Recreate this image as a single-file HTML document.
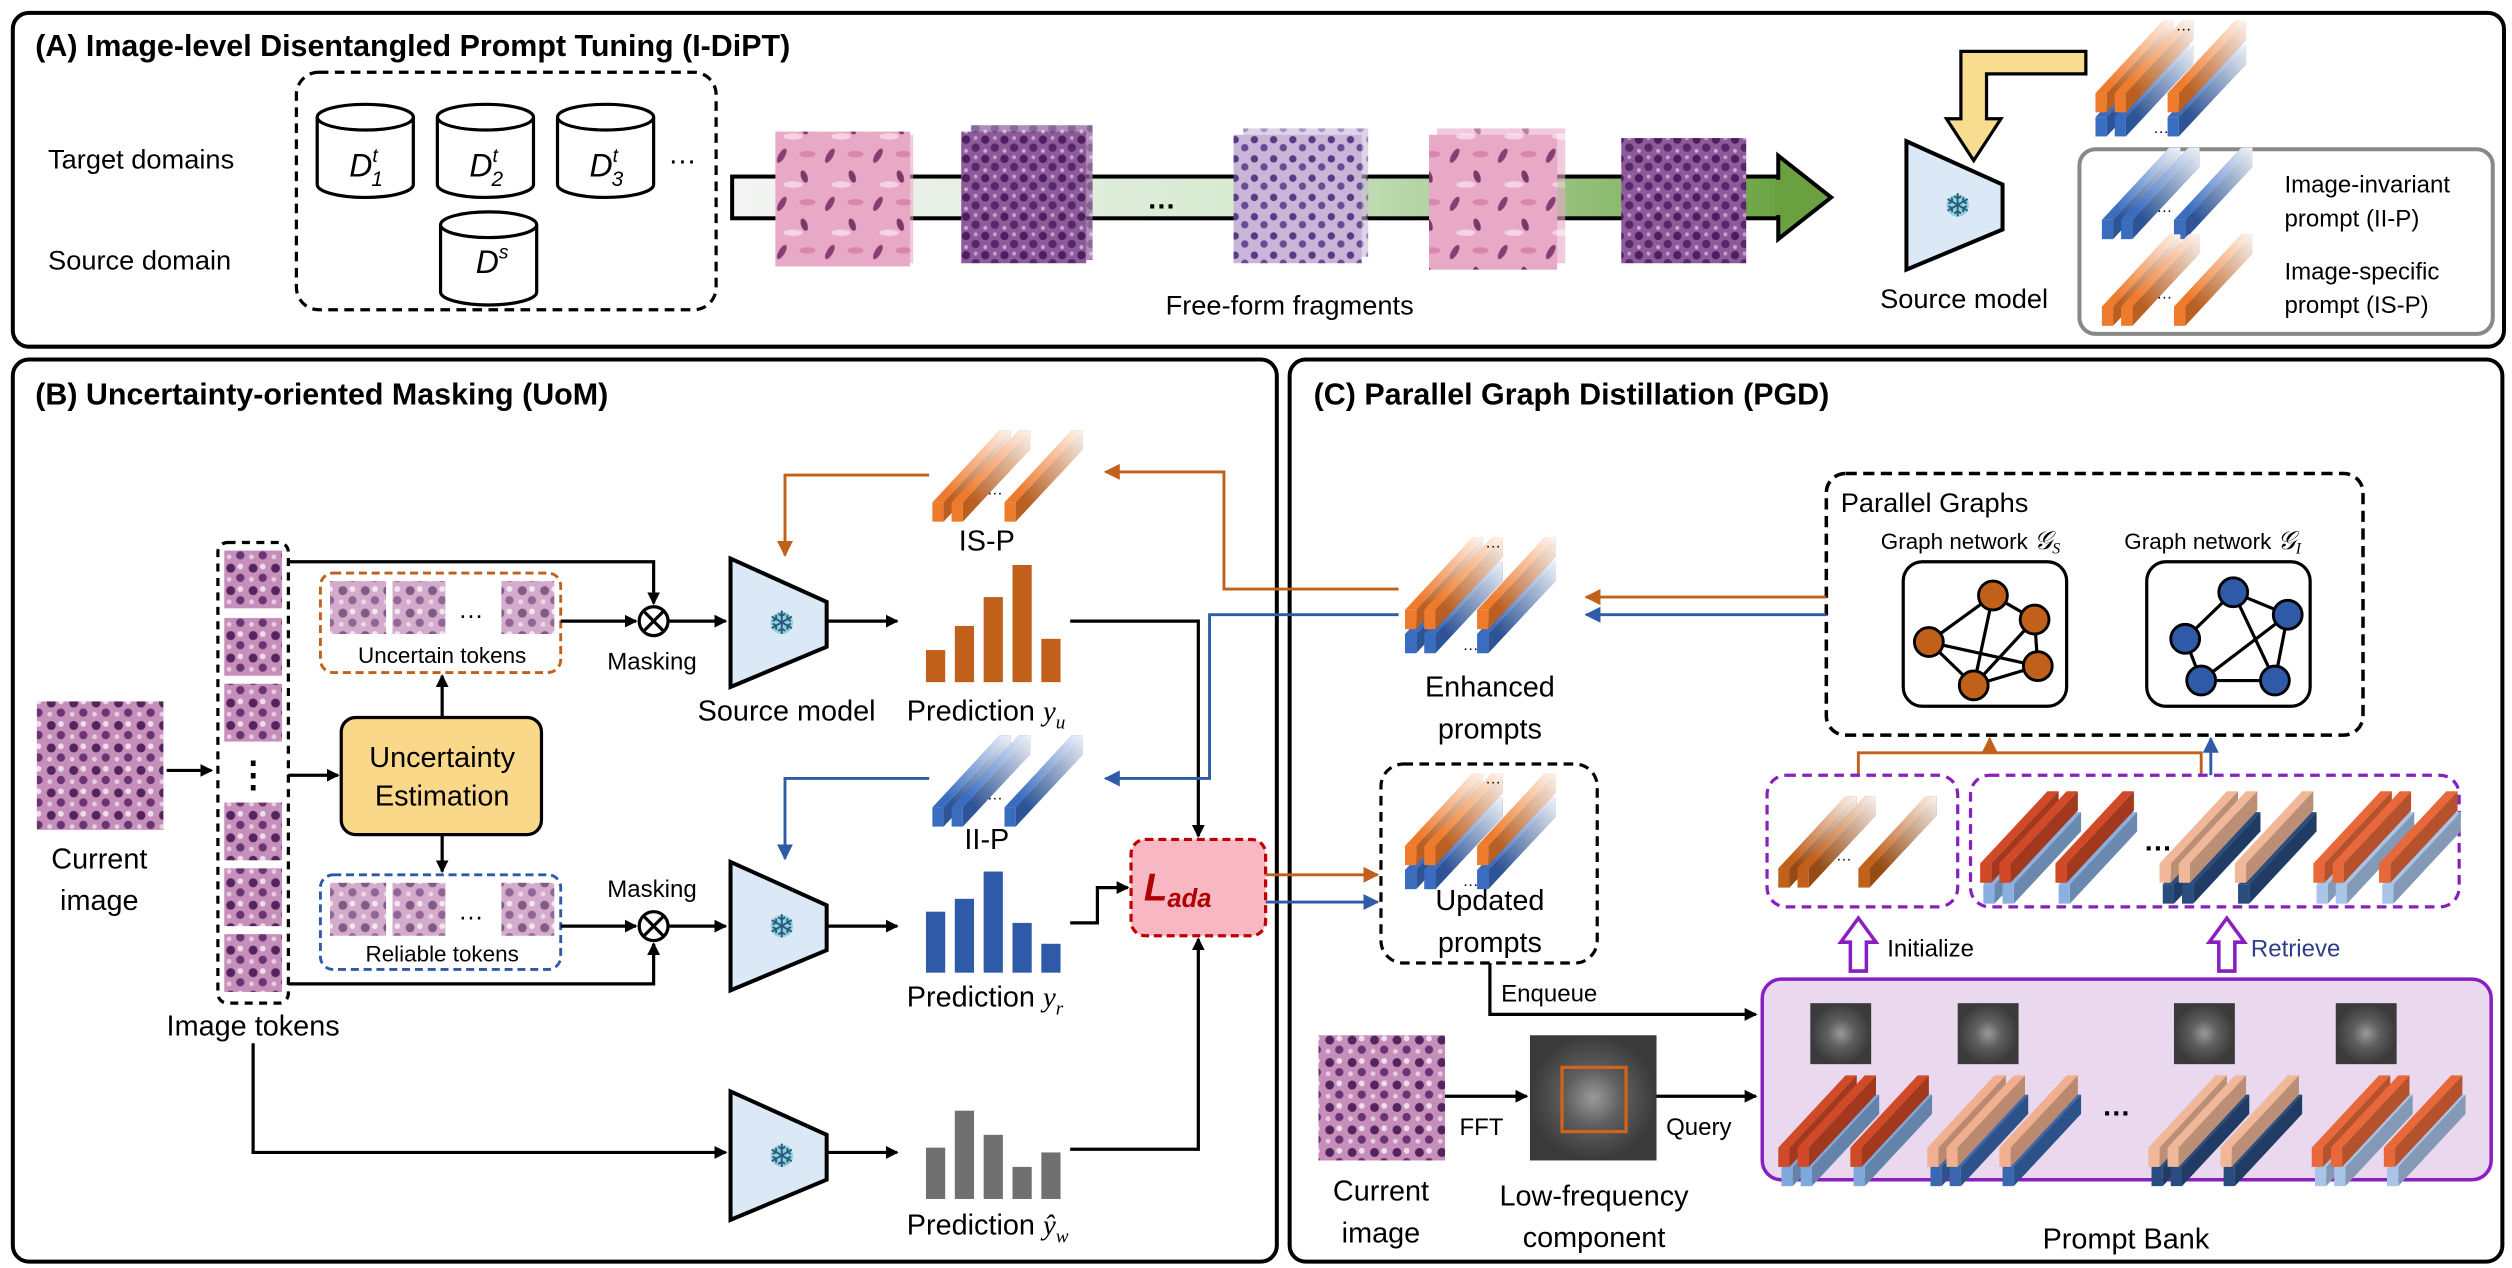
<!DOCTYPE html>
<html><head><meta charset="utf-8"><style>
html,body{margin:0;padding:0;background:#fff;}
svg{display:block;}
text{font-family:"Liberation Sans",sans-serif;}
</style></head><body>
<svg width="2512" height="1268" viewBox="0 0 1568 790" preserveAspectRatio="none" xmlns="http://www.w3.org/2000/svg">
<defs>
<linearGradient id="fade" x1="0" y1="1" x2="1" y2="0"><stop offset="0.25" stop-color="#fff" stop-opacity="0"/><stop offset="1" stop-color="#fff" stop-opacity="0.92"/></linearGradient>
<linearGradient id="barg" x1="0" y1="0" x2="1" y2="0"><stop offset="0" stop-color="#f4f4f4"/><stop offset="0.5" stop-color="#d6ead0"/><stop offset="1" stop-color="#6aa444"/></linearGradient>
<symbol id="bar" overflow="visible">
<polygon points="0,45 7,45 49,0 42,0" fill="currentColor"/>
<polygon points="7,45 7,57 49,12 49,0" fill="currentColor"/>
<polygon points="7,45 7,57 49,12 49,0" fill="#000" opacity="0.22"/>
<polygon points="0,45 7,45 7,57 49,12 49,0 42,0" fill="url(#fade)"/>
<rect x="0" y="45" width="7" height="12" fill="currentColor"/>
</symbol>
<symbol id="solid" overflow="visible">
<polygon points="0,45 7,45 49,0 42,0" fill="currentColor"/>
<polygon points="7,45 7,57 49,12 49,0" fill="currentColor"/>
<polygon points="7,45 7,57 49,12 49,0" fill="#000" opacity="0.22"/>
<rect x="0" y="45" width="7" height="12" fill="currentColor"/>
</symbol>
<symbol id="pair" overflow="visible">
<use href="#bar" x="0" y="15" color="#3a6cc0"/><use href="#bar" x="12" y="15" color="#3a6cc0"/><use href="#bar" x="45" y="15" color="#3a6cc0"/>
<use href="#bar" x="0" y="0" color="#ee7a2c"/><use href="#bar" x="12" y="0" color="#ee7a2c"/><use href="#bar" x="45" y="0" color="#ee7a2c"/>
<text x="50" y="6" font-size="10">…</text><text x="36" y="70" font-size="10">…</text>
</symbol>
<symbol id="tripO" overflow="visible">
<use href="#bar" x="0" y="0" color="#ee7a2c"/><use href="#bar" x="12" y="0" color="#ee7a2c"/><use href="#bar" x="45" y="0" color="#ee7a2c"/><text x="34" y="40" font-size="10">…</text>
</symbol>
<symbol id="tripB" overflow="visible">
<use href="#bar" x="0" y="0" color="#3a6cc0"/><use href="#bar" x="12" y="0" color="#3a6cc0"/><use href="#bar" x="45" y="0" color="#3a6cc0"/><text x="34" y="40" font-size="10">…</text>
</symbol>
<pattern id="pk" width="30" height="30" patternUnits="userSpaceOnUse"><rect width="30" height="30" fill="#e7a9c6"/><ellipse cx="8" cy="7" rx="2" ry="5" fill="#8a3d72" transform="rotate(30 8 7)"/><ellipse cx="22" cy="20" rx="2" ry="4" fill="#7d3668" transform="rotate(-20 22 20)"/><ellipse cx="15" cy="25" rx="6" ry="2" fill="#f6d3e3"/><ellipse cx="24" cy="6" rx="5" ry="2" fill="#d786ae"/></pattern>
<pattern id="pu" width="12" height="12" patternUnits="userSpaceOnUse"><rect width="12" height="12" fill="#8e5a9a"/><circle cx="3" cy="3" r="2.6" fill="#4a2060"/><circle cx="9" cy="8" r="2.6" fill="#55286c"/><circle cx="9" cy="2" r="1.2" fill="#c8a0cc"/><circle cx="3" cy="10" r="1.2" fill="#d0a8d0"/></pattern>
<pattern id="lv" width="12" height="12" patternUnits="userSpaceOnUse"><rect width="12" height="12" fill="#c9b5d8"/><circle cx="3" cy="3" r="2.3" fill="#5a3a86"/><circle cx="9" cy="8" r="2.3" fill="#6a4a94"/></pattern>
<pattern id="cur" width="14" height="14" patternUnits="userSpaceOnUse"><rect width="14" height="14" fill="#c68fba"/><circle cx="4" cy="4" r="2.8" fill="#54245e"/><circle cx="10" cy="10" r="2.6" fill="#6a3474"/><circle cx="10" cy="3" r="1.8" fill="#eeddee"/><circle cx="3" cy="11" r="1.5" fill="#e6cce4"/></pattern>
<radialGradient id="fft"><stop offset="0" stop-color="#9a9a9a"/><stop offset="0.45" stop-color="#5e5e5e"/><stop offset="1" stop-color="#3a3a3a"/></radialGradient>
<marker id="ak" markerWidth="8" markerHeight="8" refX="7" refY="4" orient="auto" markerUnits="userSpaceOnUse"><path d="M0,0 L8,4 L0,8 z" fill="#000"/></marker>
<marker id="ao" markerWidth="10" markerHeight="10" refX="9" refY="5" orient="auto" markerUnits="userSpaceOnUse"><path d="M0,0 L10,5 L0,10 z" fill="#c0601a"/></marker>
<marker id="ab" markerWidth="10" markerHeight="10" refX="9" refY="5" orient="auto" markerUnits="userSpaceOnUse"><path d="M0,0 L10,5 L0,10 z" fill="#2f5aa8"/></marker>
<symbol id="trap" overflow="visible"><polygon points="0,0 60,27 60,55 0,80" fill="#dbe9f6" stroke="#000" stroke-width="2.5"/><circle cx="32" cy="40" r="7" fill="#8fd0e0"/><text x="32" y="47" font-size="20" text-anchor="middle" fill="#2a5a7a">❄</text></symbol>
<symbol id="cyl" overflow="visible"><path d="M0,8 L0,50 A30,8 0 0 0 60,50 L60,8" fill="#fff" stroke="#000" stroke-width="2"/><ellipse cx="30" cy="8" rx="30" ry="8" fill="#fff" stroke="#000" stroke-width="2"/></symbol>
</defs>

<rect x="8" y="8" width="1555" height="208" rx="10" fill="none" stroke="#000" stroke-width="2.5"/>
<rect x="8" y="224" width="789" height="562" rx="10" fill="none" stroke="#000" stroke-width="2.5"/>
<rect x="805" y="224" width="757" height="562" rx="10" fill="none" stroke="#000" stroke-width="2.5"/>
<text x="22" y="35" font-size="19" font-weight="bold">(A) Image-level Disentangled Prompt Tuning (I-DiPT)</text>
<text x="22" y="252" font-size="19" font-weight="bold">(B) Uncertainty-oriented Masking (UoM)</text>
<text x="820" y="252" font-size="19" font-weight="bold">(C) Parallel Graph Distillation (PGD)</text>

<text x="30" y="105" font-size="17">Target domains</text>
<text x="30" y="168" font-size="17">Source domain</text>
<rect x="185" y="45" width="262" height="148" rx="14" fill="none" stroke="#000" stroke-width="2" stroke-dasharray="6,4"/>
<use href="#cyl" x="198" y="65"/><use href="#cyl" x="273" y="65"/><use href="#cyl" x="348" y="65"/>
<use href="#cyl" x="275" y="132"/>
<g font-family="Liberation Serif" font-style="italic" font-size="20">
<text x="218" y="110">D<tspan font-size="12" dy="-9">t</tspan><tspan font-size="13" dx="-4" dy="15">1</tspan></text>
<text x="293" y="110">D<tspan font-size="12" dy="-9">t</tspan><tspan font-size="13" dx="-4" dy="15">2</tspan></text>
<text x="368" y="110">D<tspan font-size="12" dy="-9">t</tspan><tspan font-size="13" dx="-4" dy="15">3</tspan></text>
<text x="297" y="170">D<tspan font-size="12" dy="-9">s</tspan></text>
</g>
<text x="417" y="102" font-size="18">…</text>
<rect x="457" y="110" width="655" height="26" fill="url(#barg)" stroke="#000" stroke-width="2.5"/>
<polygon points="1110,97 1143,123 1110,149" fill="#6aa040" stroke="#000" stroke-width="2.5"/>
<rect x="1108" y="112" width="4" height="22" fill="#6aa040"/>
<rect x="490" y="84" width="80" height="80" fill="url(#pk)" opacity="0.6"/>
<rect x="484" y="82" width="84" height="84" fill="url(#pk)"/>
<rect x="606" y="78" width="76" height="84" fill="url(#pu)" opacity="0.7"/>
<rect x="600" y="82" width="78" height="82" fill="url(#pu)"/>
<text x="716" y="130" font-size="18" font-weight="bold">…</text>
<rect x="776" y="80" width="78" height="80" fill="url(#lv)" opacity="0.6"/>
<rect x="770" y="84" width="80" height="80" fill="url(#lv)"/>
<rect x="897" y="80" width="80" height="84" fill="url(#pk)" opacity="0.6"/>
<rect x="892" y="84" width="80" height="84" fill="url(#pk)"/>
<rect x="1012" y="86" width="78" height="78" fill="url(#pu)"/>
<text x="805" y="196" font-size="17" text-anchor="middle">Free-form fragments</text>
<use href="#trap" x="1190" y="88"/>
<text x="1226" y="192" font-size="17" text-anchor="middle">Source model</text>
<path d="M1302,32 L1302,46 L1240,46 L1240,74 L1249,74 L1232,100 L1215,74 L1224,74 L1224,32 Z" fill="#f8dc90" stroke="#000" stroke-width="2"/>
<use href="#pair" x="1308" y="13"/>
<rect x="1298" y="93" width="258" height="115" rx="10" fill="none" stroke="#888" stroke-width="2.5"/>
<use href="#tripB" x="1312" y="92"/>
<use href="#tripO" x="1312" y="146"/>
<text x="1426" y="120" font-size="15">Image-invariant</text>
<text x="1426" y="141" font-size="15">prompt (II-P)</text>
<text x="1426" y="174" font-size="15">Image-specific</text>
<text x="1426" y="195" font-size="15">prompt (IS-P)</text>

<rect x="23" y="437" width="79" height="80" fill="url(#cur)"/>
<text x="62" y="541" font-size="18" text-anchor="middle">Current</text>
<text x="62" y="567" font-size="18" text-anchor="middle">image</text>
<line x1="104" y1="480" x2="132" y2="480" stroke="#000" stroke-width="2" marker-end="url(#ak)"/>
<rect x="136" y="338" width="44" height="287" rx="6" fill="none" stroke="#000" stroke-width="2" stroke-dasharray="5,4"/>
<g fill="url(#cur)">
<rect x="140" y="343" width="36" height="36"/><rect x="140" y="385" width="36" height="36"/><rect x="140" y="426" width="36" height="36"/>
<rect x="140" y="500" width="36" height="36"/><rect x="140" y="541" width="36" height="36"/><rect x="140" y="582" width="36" height="36"/>
</g>
<text x="158" y="490" font-size="22" text-anchor="middle" font-weight="bold">⋮</text>
<text x="158" y="645" font-size="18" text-anchor="middle">Image tokens</text>
<line x1="180" y1="483" x2="211" y2="483" stroke="#000" stroke-width="2" marker-end="url(#ak)"/>
<rect x="213" y="447" width="125" height="73" rx="9" fill="#fad88a" stroke="#000" stroke-width="2"/>
<text x="276" y="478" font-size="18" text-anchor="middle">Uncertainty</text>
<text x="276" y="502" font-size="18" text-anchor="middle">Estimation</text>
<rect x="200" y="357" width="150" height="62" rx="8" fill="none" stroke="#c0601a" stroke-width="1.8" stroke-dasharray="5,3"/>
<g fill="url(#cur)" opacity="0.75"><rect x="206" y="362" width="35" height="33"/><rect x="245" y="362" width="33" height="33"/><rect x="313" y="362" width="33" height="33"/>
<rect x="206" y="550" width="35" height="33"/><rect x="245" y="550" width="33" height="33"/><rect x="313" y="550" width="33" height="33"/></g>
<text x="286" y="385" font-size="16">…</text><text x="286" y="573" font-size="16">…</text>
<text x="276" y="413" font-size="14" text-anchor="middle">Uncertain tokens</text>
<rect x="200" y="545" width="150" height="59" rx="8" fill="none" stroke="#2f5aa8" stroke-width="1.8" stroke-dasharray="5,3"/>
<text x="276" y="599" font-size="14" text-anchor="middle">Reliable tokens</text>
<line x1="276" y1="447" x2="276" y2="421" stroke="#000" stroke-width="2" marker-end="url(#ak)"/>
<line x1="276" y1="520" x2="276" y2="543" stroke="#000" stroke-width="2" marker-end="url(#ak)"/>
<polyline points="180,350 408,350 408,376" fill="none" stroke="#000" stroke-width="2" marker-end="url(#ak)"/>
<line x1="350" y1="387" x2="397" y2="387" stroke="#000" stroke-width="2" marker-end="url(#ak)"/>
<polyline points="180,613 408,613 408,588" fill="none" stroke="#000" stroke-width="2" marker-end="url(#ak)"/>
<line x1="350" y1="577" x2="397" y2="577" stroke="#000" stroke-width="2" marker-end="url(#ak)"/>
<g stroke="#000" stroke-width="2" fill="#fff"><circle cx="408" cy="387" r="9"/><circle cx="408" cy="577" r="9"/>
<path d="M402,381 L414,393 M414,381 L402,393 M402,571 L414,583 M414,571 L402,583"/></g>
<text x="407" y="417" font-size="15" text-anchor="middle">Masking</text>
<text x="407" y="559" font-size="15" text-anchor="middle">Masking</text>
<line x1="417" y1="387" x2="453" y2="387" stroke="#000" stroke-width="2" marker-end="url(#ak)"/>
<line x1="417" y1="577" x2="453" y2="577" stroke="#000" stroke-width="2" marker-end="url(#ak)"/>
<use href="#trap" x="456" y="348"/><use href="#trap" x="456" y="537"/><use href="#trap" x="456" y="680"/>
<text x="491" y="449" font-size="18" text-anchor="middle">Source model</text>
<polyline points="158,650 158,718 453,718" fill="none" stroke="#000" stroke-width="2" marker-end="url(#ak)"/>
<line x1="516" y1="387" x2="560" y2="387" stroke="#000" stroke-width="2" marker-end="url(#ak)"/>
<line x1="516" y1="577" x2="560" y2="577" stroke="#000" stroke-width="2" marker-end="url(#ak)"/>
<line x1="516" y1="718" x2="560" y2="718" stroke="#000" stroke-width="2" marker-end="url(#ak)"/>
<use href="#tripO" x="582" y="268"/>
<text x="616" y="343" font-size="18" text-anchor="middle">IS-P</text>
<use href="#tripB" x="582" y="458"/>
<text x="616" y="529" font-size="18" text-anchor="middle">II-P</text>
<g fill="#c0601a"><rect x="578" y="405" width="12" height="20"/><rect x="596" y="390" width="12" height="35"/><rect x="614" y="372" width="12" height="53"/><rect x="632" y="352" width="12" height="73"/><rect x="650" y="398" width="12" height="27"/></g>
<g fill="#2f5aa8"><rect x="578" y="568" width="12" height="38"/><rect x="596" y="560" width="12" height="46"/><rect x="614" y="543" width="12" height="63"/><rect x="632" y="575" width="12" height="31"/><rect x="650" y="588" width="12" height="18"/></g>
<g fill="#707070"><rect x="578" y="715" width="12" height="32"/><rect x="596" y="692" width="12" height="55"/><rect x="614" y="707" width="12" height="40"/><rect x="632" y="727" width="12" height="20"/><rect x="650" y="718" width="12" height="29"/></g>
<text x="566" y="449" font-size="18">Prediction <tspan font-family="Liberation Serif" font-style="italic">y</tspan><tspan font-family="Liberation Serif" font-style="italic" font-size="12" dy="5">u</tspan></text>
<text x="566" y="627" font-size="18">Prediction <tspan font-family="Liberation Serif" font-style="italic">y</tspan><tspan font-family="Liberation Serif" font-style="italic" font-size="12" dy="5">r</tspan></text>
<text x="566" y="769" font-size="18">Prediction <tspan font-family="Liberation Serif" font-style="italic">ŷ</tspan><tspan font-family="Liberation Serif" font-style="italic" font-size="12" dy="5">w</tspan></text>
<polyline points="668,387 748,387 748,521" fill="none" stroke="#000" stroke-width="2" marker-end="url(#ak)"/>
<polyline points="668,575 685,575 685,553 704,553" fill="none" stroke="#000" stroke-width="2" marker-end="url(#ak)"/>
<polyline points="668,716 748,716 748,585" fill="none" stroke="#000" stroke-width="2" marker-end="url(#ak)"/>
<rect x="706" y="523" width="84" height="60" rx="9" fill="#f7b8c4" stroke="#c00000" stroke-width="2" stroke-dasharray="5,3"/>
<text x="714" y="561" font-size="24" font-weight="bold" font-style="italic" font-family="Liberation Serif" fill="#b00000">L<tspan font-size="16" dy="4">ada</tspan></text>
<polyline points="580,296 490,296 490,346" fill="none" stroke="#c0601a" stroke-width="1.8" marker-end="url(#ao)"/>
<polyline points="580,485 490,485 490,535" fill="none" stroke="#2f5aa8" stroke-width="1.8" marker-end="url(#ab)"/>
<polyline points="873,367 764,367 764,294 690,294" fill="none" stroke="#c0601a" stroke-width="1.8" marker-end="url(#ao)"/>
<polyline points="873,383 755,383 755,485 690,485" fill="none" stroke="#2f5aa8" stroke-width="1.8" marker-end="url(#ab)"/>
<line x1="790" y1="545" x2="860" y2="545" stroke="#c0601a" stroke-width="1.8" marker-end="url(#ao)"/>
<line x1="790" y1="562" x2="860" y2="562" stroke="#2f5aa8" stroke-width="1.8" marker-end="url(#ab)"/>

<use href="#pair" x="877" y="335"/>
<text x="930" y="434" font-size="18" text-anchor="middle">Enhanced</text>
<text x="930" y="460" font-size="18" text-anchor="middle">prompts</text>
<rect x="1140" y="295" width="335" height="163" rx="12" fill="none" stroke="#000" stroke-width="2.2" stroke-dasharray="7,4"/>
<text x="1149" y="319" font-size="17">Parallel Graphs</text>
<text x="1174" y="342" font-size="14">Graph network <tspan font-family="Liberation Serif" font-style="italic" font-size="16">𝒢</tspan><tspan font-family="Liberation Serif" font-style="italic" font-size="10" dy="3">S</tspan></text>
<text x="1326" y="342" font-size="14">Graph network <tspan font-family="Liberation Serif" font-style="italic" font-size="16">𝒢</tspan><tspan font-family="Liberation Serif" font-style="italic" font-size="10" dy="3">I</tspan></text>
<rect x="1188" y="350" width="102" height="90" rx="12" fill="#fff" stroke="#000" stroke-width="2"/>
<rect x="1340" y="350" width="102" height="90" rx="12" fill="#fff" stroke="#000" stroke-width="2"/>
<g stroke="#000" stroke-width="2">
<path d="M1244,371 L1270,386 M1244,371 L1204,400 M1244,371 L1232,427 M1204,400 L1272,415 M1204,400 L1232,427 M1232,427 L1272,415 M1270,386 L1272,415 M1270,386 L1232,427"/>
<path d="M1394,369 L1428,383 M1394,369 L1364,398 M1394,369 L1420,424 M1428,383 L1374,424 M1364,398 L1374,424 M1428,383 L1420,424 M1374,424 L1420,424"/>
</g>
<g fill="#c0601a" stroke="#000" stroke-width="1.8"><circle cx="1244" cy="371" r="9"/><circle cx="1270" cy="386" r="9"/><circle cx="1204" cy="400" r="9"/><circle cx="1272" cy="415" r="9"/><circle cx="1232" cy="427" r="9"/></g>
<g fill="#2f5aa8" stroke="#000" stroke-width="1.8"><circle cx="1394" cy="369" r="9"/><circle cx="1428" cy="383" r="9"/><circle cx="1364" cy="398" r="9"/><circle cx="1374" cy="424" r="9"/><circle cx="1420" cy="424" r="9"/></g>
<line x1="1140" y1="372" x2="990" y2="372" stroke="#c0601a" stroke-width="1.8" marker-end="url(#ao)"/>
<line x1="1140" y1="383" x2="990" y2="383" stroke="#2f5aa8" stroke-width="1.8" marker-end="url(#ab)"/>
<rect x="862" y="476" width="135" height="124" rx="14" fill="none" stroke="#000" stroke-width="2" stroke-dasharray="6,4"/>
<use href="#pair" x="877" y="482"/>
<text x="930" y="567" font-size="18" text-anchor="middle">Updated</text>
<text x="930" y="593" font-size="18" text-anchor="middle">prompts</text>
<polyline points="930,600 930,632 1096,632" fill="none" stroke="#000" stroke-width="2" marker-end="url(#ak)"/>
<text x="937" y="624" font-size="15">Enqueue</text>
<polyline points="1160,483 1160,469 1374,469 1374,483" fill="none" stroke="#c0601a" stroke-width="1.8"/>
<line x1="1242" y1="469" x2="1242" y2="460" stroke="#c0601a" stroke-width="1.8" marker-end="url(#ao)"/>
<line x1="1380" y1="483" x2="1380" y2="460" stroke="#2f5aa8" stroke-width="1.8" marker-end="url(#ab)"/>
<rect x="1103" y="483" width="119" height="82" rx="12" fill="none" stroke="#8a1fc0" stroke-width="2" stroke-dasharray="6,4"/>
<rect x="1230" y="483" width="305" height="82" rx="12" fill="none" stroke="#8a1fc0" stroke-width="2" stroke-dasharray="6,4"/>
<use href="#bar" x="1110" y="496" color="#c0601a"/><use href="#bar" x="1122" y="496" color="#c0601a"/><use href="#bar" x="1160" y="496" color="#c0601a"/><text x="1146" y="536" font-size="10">…</text>
<g>
<use href="#solid" x="1238" y="506" color="#8ab0e0"/><use href="#solid" x="1250" y="506" color="#8ab0e0"/><use href="#solid" x="1285" y="506" color="#8ab0e0"/>
<use href="#solid" x="1236" y="493" color="#d04a28"/><use href="#solid" x="1248" y="493" color="#d04a28"/><use href="#solid" x="1283" y="493" color="#d04a28"/>
<text x="1338" y="530" font-size="18" font-weight="bold">…</text>
<use href="#solid" x="1350" y="506" color="#2a4d80"/><use href="#solid" x="1362" y="506" color="#2a4d80"/><use href="#solid" x="1397" y="506" color="#2a4d80"/>
<use href="#solid" x="1348" y="493" color="#f0b898"/><use href="#solid" x="1360" y="493" color="#f0b898"/><use href="#solid" x="1395" y="493" color="#f0b898"/>
<use href="#solid" x="1446" y="506" color="#a8c4e8"/><use href="#solid" x="1458" y="506" color="#a8c4e8"/><use href="#solid" x="1487" y="506" color="#a8c4e8"/>
<use href="#solid" x="1444" y="493" color="#e8683a"/><use href="#solid" x="1456" y="493" color="#e8683a"/><use href="#solid" x="1485" y="493" color="#e8683a"/>
</g>
<path d="M1155,605 L1155,587 L1149,587 L1160,572 L1171,587 L1165,587 L1165,605 Z" fill="#fff" stroke="#8a1fc0" stroke-width="2.2"/>
<path d="M1385,605 L1385,587 L1379,587 L1390,572 L1401,587 L1395,587 L1395,605 Z" fill="#fff" stroke="#8a1fc0" stroke-width="2.2"/>
<text x="1178" y="596" font-size="15">Initialize</text>
<text x="1405" y="596" font-size="15" fill="#2e3c8c">Retrieve</text>
<rect x="1100" y="610" width="455" height="125" rx="12" fill="#ead8ee" stroke="#8a1fc0" stroke-width="2.2"/>
<g fill="url(#fft)"><rect x="1130" y="625" width="38" height="38"/><rect x="1222" y="625" width="38" height="38"/><rect x="1357" y="625" width="38" height="38"/><rect x="1458" y="625" width="38" height="38"/></g>
<g>
<use href="#solid" x="1112" y="682" color="#7fa8dc"/><use href="#solid" x="1124" y="682" color="#7fa8dc"/><use href="#solid" x="1157" y="682" color="#7fa8dc"/>
<use href="#solid" x="1110" y="670" color="#d04a28"/><use href="#solid" x="1122" y="670" color="#d04a28"/><use href="#solid" x="1155" y="670" color="#d04a28"/>
<use href="#solid" x="1205" y="682" color="#3a68b0"/><use href="#solid" x="1217" y="682" color="#3a68b0"/><use href="#solid" x="1250" y="682" color="#3a68b0"/>
<use href="#solid" x="1203" y="670" color="#f0b090"/><use href="#solid" x="1215" y="670" color="#f0b090"/><use href="#solid" x="1248" y="670" color="#f0b090"/>
<text x="1312" y="695" font-size="18" font-weight="bold">…</text>
<use href="#solid" x="1343" y="682" color="#2a4d80"/><use href="#solid" x="1355" y="682" color="#2a4d80"/><use href="#solid" x="1388" y="682" color="#2a4d80"/>
<use href="#solid" x="1341" y="670" color="#f0b898"/><use href="#solid" x="1353" y="670" color="#f0b898"/><use href="#solid" x="1386" y="670" color="#f0b898"/>
<use href="#solid" x="1445" y="682" color="#a8c4e8"/><use href="#solid" x="1457" y="682" color="#a8c4e8"/><use href="#solid" x="1490" y="682" color="#a8c4e8"/>
<use href="#solid" x="1443" y="670" color="#e8683a"/><use href="#solid" x="1455" y="670" color="#e8683a"/><use href="#solid" x="1488" y="670" color="#e8683a"/>
</g>
<text x="1327" y="778" font-size="18" text-anchor="middle">Prompt Bank</text>
<rect x="823" y="645" width="79" height="78" fill="url(#cur)"/>
<text x="862" y="748" font-size="18" text-anchor="middle">Current</text>
<text x="862" y="774" font-size="18" text-anchor="middle">image</text>
<line x1="902" y1="683" x2="953" y2="683" stroke="#000" stroke-width="2" marker-end="url(#ak)"/>
<text x="911" y="707" font-size="15">FFT</text>
<rect x="955" y="645" width="79" height="78" fill="url(#fft)"/>
<rect x="975" y="665" width="40" height="40" fill="none" stroke="#d0641a" stroke-width="2"/>
<text x="995" y="751" font-size="18" text-anchor="middle">Low-frequency</text>
<text x="995" y="777" font-size="18" text-anchor="middle">component</text>
<line x1="1034" y1="683" x2="1096" y2="683" stroke="#000" stroke-width="2" marker-end="url(#ak)"/>
<text x="1040" y="707" font-size="15">Query</text>
</svg>
</body></html>
